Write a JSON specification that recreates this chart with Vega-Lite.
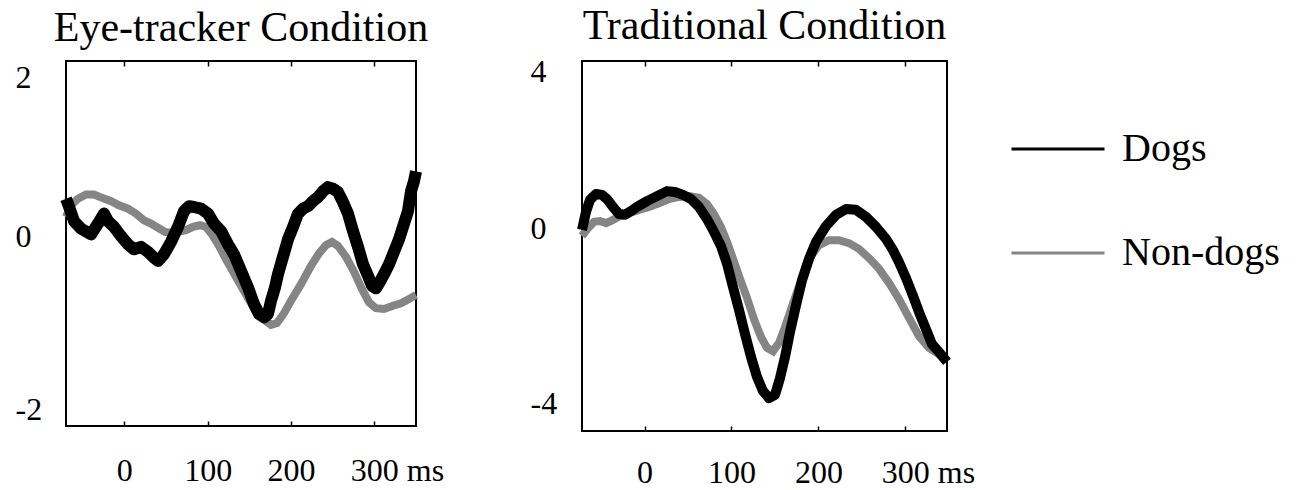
{
  "$schema": "https://vega.github.io/schema/vega-lite/v6.json",
  "padding": {"left": 14, "top": 4, "right": 5, "bottom": 0},
  "background": "white",
  "config": {
    "font": "Liberation Serif",
    "view": {"stroke": "black", "strokeWidth": 2},
    "axis": {"grid": false, "domain": false, "labelFont": "Liberation Serif", "labelFontSize": 32, "labelColor": "black", "title": null, "tickColor": "black"},
    "title": {"font": "Liberation Serif", "fontSize": 42, "fontWeight": "normal", "color": "black", "baseline": "alphabetic"},
    "legend": {"orient": "none", "legendX": 944, "legendY": 40, "symbolType": "stroke", "symbolSize": 8649, "symbolStrokeWidth": 3, "labelFontSize": 40, "labelFont": "Liberation Serif", "labelColor": "black", "labelOffset": 16, "rowPadding": 36, "title": null}
  },
  "datasets": {
    "eye": [
      {"t": -70, "v": 0.54, "s": "Dogs"}, {"t": -67.6, "v": 0.48, "s": "Dogs"}, {"t": -60.4, "v": 0.27, "s": "Dogs"}, {"t": -52, "v": 0.18, "s": "Dogs"}, {"t": -40, "v": 0.11, "s": "Dogs"}, {"t": -31.6, "v": 0.24, "s": "Dogs"}, {"t": -24.4, "v": 0.36, "s": "Dogs"}, {"t": -19.6, "v": 0.27, "s": "Dogs"}, {"t": -12.4, "v": 0.2, "s": "Dogs"}, {"t": -4, "v": 0.09, "s": "Dogs"}, {"t": 4.4, "v": -0.01, "s": "Dogs"}, {"t": 11.6, "v": -0.07, "s": "Dogs"}, {"t": 20, "v": -0.04, "s": "Dogs"}, {"t": 28.4, "v": -0.1, "s": "Dogs"}, {"t": 34.4, "v": -0.16, "s": "Dogs"}, {"t": 40.4, "v": -0.21, "s": "Dogs"}, {"t": 47.6, "v": -0.13, "s": "Dogs"}, {"t": 56, "v": 0.02, "s": "Dogs"}, {"t": 64.4, "v": 0.2, "s": "Dogs"}, {"t": 71.6, "v": 0.39, "s": "Dogs"}, {"t": 77.6, "v": 0.45, "s": "Dogs"}, {"t": 83.6, "v": 0.44, "s": "Dogs"}, {"t": 92, "v": 0.42, "s": "Dogs"}, {"t": 100.4, "v": 0.36, "s": "Dogs"}, {"t": 107.6, "v": 0.24, "s": "Dogs"}, {"t": 116, "v": 0.15, "s": "Dogs"}, {"t": 124.4, "v": -0.01, "s": "Dogs"}, {"t": 131.6, "v": -0.13, "s": "Dogs"}, {"t": 140, "v": -0.33, "s": "Dogs"}, {"t": 148.4, "v": -0.53, "s": "Dogs"}, {"t": 155.6, "v": -0.73, "s": "Dogs"}, {"t": 161.6, "v": -0.85, "s": "Dogs"}, {"t": 167.6, "v": -0.89, "s": "Dogs"}, {"t": 172.4, "v": -0.85, "s": "Dogs"}, {"t": 176, "v": -0.69, "s": "Dogs"}, {"t": 180.8, "v": -0.53, "s": "Dogs"}, {"t": 184.4, "v": -0.37, "s": "Dogs"}, {"t": 190.4, "v": -0.16, "s": "Dogs"}, {"t": 196.4, "v": 0.05, "s": "Dogs"}, {"t": 202.4, "v": 0.2, "s": "Dogs"}, {"t": 208.4, "v": 0.36, "s": "Dogs"}, {"t": 214.4, "v": 0.42, "s": "Dogs"}, {"t": 220.4, "v": 0.45, "s": "Dogs"}, {"t": 226.4, "v": 0.51, "s": "Dogs"}, {"t": 232.4, "v": 0.56, "s": "Dogs"}, {"t": 238.4, "v": 0.63, "s": "Dogs"}, {"t": 244.4, "v": 0.68, "s": "Dogs"}, {"t": 250.4, "v": 0.66, "s": "Dogs"}, {"t": 256.4, "v": 0.62, "s": "Dogs"}, {"t": 262.4, "v": 0.5, "s": "Dogs"}, {"t": 268.4, "v": 0.36, "s": "Dogs"}, {"t": 274.4, "v": 0.15, "s": "Dogs"}, {"t": 280.4, "v": -0.04, "s": "Dogs"}, {"t": 286.4, "v": -0.25, "s": "Dogs"}, {"t": 292.4, "v": -0.39, "s": "Dogs"}, {"t": 297.2, "v": -0.51, "s": "Dogs"}, {"t": 302, "v": -0.54, "s": "Dogs"}, {"t": 306.8, "v": -0.46, "s": "Dogs"}, {"t": 311.6, "v": -0.37, "s": "Dogs"}, {"t": 317.6, "v": -0.25, "s": "Dogs"}, {"t": 323.6, "v": -0.1, "s": "Dogs"}, {"t": 329.6, "v": 0.05, "s": "Dogs"}, {"t": 335.6, "v": 0.24, "s": "Dogs"}, {"t": 340.4, "v": 0.39, "s": "Dogs"}, {"t": 344, "v": 0.63, "s": "Dogs"}, {"t": 347.6, "v": 0.75, "s": "Dogs"}, {"t": 350, "v": 0.87, "s": "Dogs"},
      {"t": -70, "v": 0.32, "s": "Non-dogs"}, {"t": -64, "v": 0.46, "s": "Non-dogs"}, {"t": -55.6, "v": 0.54, "s": "Non-dogs"}, {"t": -46, "v": 0.59, "s": "Non-dogs"}, {"t": -36.4, "v": 0.59, "s": "Non-dogs"}, {"t": -26.8, "v": 0.55, "s": "Non-dogs"}, {"t": -16, "v": 0.51, "s": "Non-dogs"}, {"t": -6.4, "v": 0.46, "s": "Non-dogs"}, {"t": 4.4, "v": 0.42, "s": "Non-dogs"}, {"t": 14, "v": 0.36, "s": "Non-dogs"}, {"t": 23.6, "v": 0.28, "s": "Non-dogs"}, {"t": 32, "v": 0.24, "s": "Non-dogs"}, {"t": 40.4, "v": 0.19, "s": "Non-dogs"}, {"t": 48.8, "v": 0.14, "s": "Non-dogs"}, {"t": 56, "v": 0.13, "s": "Non-dogs"}, {"t": 64.4, "v": 0.14, "s": "Non-dogs"}, {"t": 74, "v": 0.16, "s": "Non-dogs"}, {"t": 82.4, "v": 0.2, "s": "Non-dogs"}, {"t": 90.8, "v": 0.22, "s": "Non-dogs"}, {"t": 98, "v": 0.2, "s": "Non-dogs"}, {"t": 105.2, "v": 0.11, "s": "Non-dogs"}, {"t": 113.6, "v": -0.03, "s": "Non-dogs"}, {"t": 122, "v": -0.19, "s": "Non-dogs"}, {"t": 130.4, "v": -0.34, "s": "Non-dogs"}, {"t": 140, "v": -0.51, "s": "Non-dogs"}, {"t": 149.6, "v": -0.68, "s": "Non-dogs"}, {"t": 159.2, "v": -0.83, "s": "Non-dogs"}, {"t": 167.6, "v": -0.92, "s": "Non-dogs"}, {"t": 176, "v": -0.98, "s": "Non-dogs"}, {"t": 183.2, "v": -0.96, "s": "Non-dogs"}, {"t": 191.6, "v": -0.84, "s": "Non-dogs"}, {"t": 200, "v": -0.69, "s": "Non-dogs"}, {"t": 212, "v": -0.49, "s": "Non-dogs"}, {"t": 224, "v": -0.27, "s": "Non-dogs"}, {"t": 233.6, "v": -0.12, "s": "Non-dogs"}, {"t": 242, "v": -0.02, "s": "Non-dogs"}, {"t": 249.2, "v": 0.02, "s": "Non-dogs"}, {"t": 256.4, "v": -0.03, "s": "Non-dogs"}, {"t": 266, "v": -0.16, "s": "Non-dogs"}, {"t": 275.6, "v": -0.34, "s": "Non-dogs"}, {"t": 285.2, "v": -0.55, "s": "Non-dogs"}, {"t": 293.6, "v": -0.71, "s": "Non-dogs"}, {"t": 302, "v": -0.78, "s": "Non-dogs"}, {"t": 311.6, "v": -0.79, "s": "Non-dogs"}, {"t": 322.4, "v": -0.75, "s": "Non-dogs"}, {"t": 332, "v": -0.72, "s": "Non-dogs"}, {"t": 341.6, "v": -0.67, "s": "Non-dogs"}, {"t": 350, "v": -0.62, "s": "Non-dogs"}
    ],
    "trad": [
      {"t": -72, "v": 0.19, "s": "Dogs"}, {"t": -67.4, "v": 0.62, "s": "Dogs"}, {"t": -62.8, "v": 0.91, "s": "Dogs"}, {"t": -55.9, "v": 1.05, "s": "Dogs"}, {"t": -49, "v": 1.03, "s": "Dogs"}, {"t": -43.2, "v": 0.93, "s": "Dogs"}, {"t": -36.3, "v": 0.74, "s": "Dogs"}, {"t": -29.4, "v": 0.57, "s": "Dogs"}, {"t": -22.5, "v": 0.55, "s": "Dogs"}, {"t": -15.6, "v": 0.64, "s": "Dogs"}, {"t": -8.7, "v": 0.74, "s": "Dogs"}, {"t": 2.8, "v": 0.88, "s": "Dogs"}, {"t": 14.3, "v": 1.0, "s": "Dogs"}, {"t": 25.8, "v": 1.12, "s": "Dogs"}, {"t": 35, "v": 1.1, "s": "Dogs"}, {"t": 44.2, "v": 1.03, "s": "Dogs"}, {"t": 53.4, "v": 0.93, "s": "Dogs"}, {"t": 62.6, "v": 0.74, "s": "Dogs"}, {"t": 71.8, "v": 0.45, "s": "Dogs"}, {"t": 79.9, "v": 0.14, "s": "Dogs"}, {"t": 87.9, "v": -0.2, "s": "Dogs"}, {"t": 94.9, "v": -0.63, "s": "Dogs"}, {"t": 101.8, "v": -1.19, "s": "Dogs"}, {"t": 108.7, "v": -1.74, "s": "Dogs"}, {"t": 115.6, "v": -2.32, "s": "Dogs"}, {"t": 122.5, "v": -2.87, "s": "Dogs"}, {"t": 129.4, "v": -3.35, "s": "Dogs"}, {"t": 136.3, "v": -3.69, "s": "Dogs"}, {"t": 143.2, "v": -3.86, "s": "Dogs"}, {"t": 150.1, "v": -3.78, "s": "Dogs"}, {"t": 155.8, "v": -3.38, "s": "Dogs"}, {"t": 161.6, "v": -2.87, "s": "Dogs"}, {"t": 167.3, "v": -2.27, "s": "Dogs"}, {"t": 174.3, "v": -1.62, "s": "Dogs"}, {"t": 181.2, "v": -1.02, "s": "Dogs"}, {"t": 189.2, "v": -0.51, "s": "Dogs"}, {"t": 197.3, "v": -0.1, "s": "Dogs"}, {"t": 208.8, "v": 0.28, "s": "Dogs"}, {"t": 220.3, "v": 0.55, "s": "Dogs"}, {"t": 231.8, "v": 0.69, "s": "Dogs"}, {"t": 243.3, "v": 0.67, "s": "Dogs"}, {"t": 254.8, "v": 0.5, "s": "Dogs"}, {"t": 266.3, "v": 0.26, "s": "Dogs"}, {"t": 277.8, "v": -0.03, "s": "Dogs"}, {"t": 285.9, "v": -0.3, "s": "Dogs"}, {"t": 292.8, "v": -0.59, "s": "Dogs"}, {"t": 300.8, "v": -0.97, "s": "Dogs"}, {"t": 308.9, "v": -1.4, "s": "Dogs"}, {"t": 315.8, "v": -1.79, "s": "Dogs"}, {"t": 323.8, "v": -2.2, "s": "Dogs"}, {"t": 330.7, "v": -2.56, "s": "Dogs"}, {"t": 338.8, "v": -2.75, "s": "Dogs"}, {"t": 348, "v": -2.99, "s": "Dogs"},
      {"t": -72, "v": 0.04, "s": "Non-dogs"}, {"t": -65.1, "v": 0.23, "s": "Non-dogs"}, {"t": -58.2, "v": 0.38, "s": "Non-dogs"}, {"t": -51.3, "v": 0.4, "s": "Non-dogs"}, {"t": -44.4, "v": 0.35, "s": "Non-dogs"}, {"t": -36.3, "v": 0.43, "s": "Non-dogs"}, {"t": -28.3, "v": 0.52, "s": "Non-dogs"}, {"t": -17.9, "v": 0.59, "s": "Non-dogs"}, {"t": -6.4, "v": 0.67, "s": "Non-dogs"}, {"t": 5.1, "v": 0.74, "s": "Non-dogs"}, {"t": 16.6, "v": 0.83, "s": "Non-dogs"}, {"t": 28.1, "v": 0.93, "s": "Non-dogs"}, {"t": 39.6, "v": 0.98, "s": "Non-dogs"}, {"t": 51.1, "v": 1.0, "s": "Non-dogs"}, {"t": 62.6, "v": 0.96, "s": "Non-dogs"}, {"t": 71.8, "v": 0.81, "s": "Non-dogs"}, {"t": 79.9, "v": 0.57, "s": "Non-dogs"}, {"t": 87.9, "v": 0.26, "s": "Non-dogs"}, {"t": 94.9, "v": -0.1, "s": "Non-dogs"}, {"t": 101.8, "v": -0.51, "s": "Non-dogs"}, {"t": 109.8, "v": -0.99, "s": "Non-dogs"}, {"t": 117.9, "v": -1.45, "s": "Non-dogs"}, {"t": 125.9, "v": -1.96, "s": "Non-dogs"}, {"t": 134, "v": -2.39, "s": "Non-dogs"}, {"t": 140.9, "v": -2.65, "s": "Non-dogs"}, {"t": 147.8, "v": -2.73, "s": "Non-dogs"}, {"t": 154.7, "v": -2.53, "s": "Non-dogs"}, {"t": 161.6, "v": -2.15, "s": "Non-dogs"}, {"t": 168.5, "v": -1.72, "s": "Non-dogs"}, {"t": 175.4, "v": -1.31, "s": "Non-dogs"}, {"t": 183.5, "v": -0.83, "s": "Non-dogs"}, {"t": 191.5, "v": -0.44, "s": "Non-dogs"}, {"t": 200.7, "v": -0.18, "s": "Non-dogs"}, {"t": 212.4, "v": -0.06, "s": "Non-dogs"}, {"t": 223.7, "v": -0.06, "s": "Non-dogs"}, {"t": 235.2, "v": -0.13, "s": "Non-dogs"}, {"t": 246.7, "v": -0.27, "s": "Non-dogs"}, {"t": 258.2, "v": -0.49, "s": "Non-dogs"}, {"t": 269.8, "v": -0.75, "s": "Non-dogs"}, {"t": 281.3, "v": -1.09, "s": "Non-dogs"}, {"t": 292.8, "v": -1.48, "s": "Non-dogs"}, {"t": 304.3, "v": -1.93, "s": "Non-dogs"}, {"t": 315.8, "v": -2.37, "s": "Non-dogs"}, {"t": 327.3, "v": -2.65, "s": "Non-dogs"}, {"t": 338.8, "v": -2.8, "s": "Non-dogs"}, {"t": 348, "v": -2.94, "s": "Non-dogs"}
    ]
  },
  "spacing": 84,
  "resolve": {"scale": {"color": "shared"}},
  "hconcat": [
    {
      "width": 350,
      "height": 365,
      "title": {"text": "Eye-tracker Condition", "offset": 10},
      "data": {"name": "eye"},
      "encoding": {
        "y": {"field": "v", "type": "quantitative", "scale": {"domain": [-2.2, 2.2], "nice": false, "zero": false},
          "axis": {"values": [-2, 0, 2], "labelExpr": "'' + datum.value", "labelAlign": "left", "labelBaseline": "middle", "labelPadding": 51, "ticks": false, "labelOffset": {"condition": {"test": "datum.value === 0", "value": -7}, "value": 0}}},
        "color": {"field": "s", "type": "nominal", "scale": {"domain": ["Dogs", "Non-dogs"], "range": ["#000000", "#858585"]}}
      },
      "resolve": {"axis": {"x": "independent"}},
      "layer": [
        {"transform": [{"filter": "datum.s === 'Non-dogs'"}], "mark": {"type": "line", "strokeWidth": 8},
          "encoding": {"x": {"field": "t", "type": "quantitative", "scale": {"domain": [-70, 350], "nice": false, "zero": false},
            "axis": {"values": [0, 100, 200, 300], "labelExpr": "datum.value === 300 ? '300 ms' : datum.label", "labelAlign": {"condition": {"test": "datum.value === 300", "value": "left"}, "value": "center"}, "labelOffset": {"condition": {"test": "datum.value === 300", "value": -24}, "value": 0}, "labelBaseline": "alphabetic", "labelPadding": 59, "tickSize": -5, "tickWidth": 1.5, "labelFlush": false, "labelOverlap": false}}}},
        {"transform": [{"filter": "datum.s === 'Dogs'"}], "mark": {"type": "line", "strokeWidth": 12, "strokeJoin": "round"},
          "encoding": {"x": {"field": "t", "type": "quantitative", "scale": {"domain": [-70, 350], "nice": false, "zero": false},
            "axis": {"orient": "top", "values": [0, 100, 200, 300], "labels": false, "tickSize": -5, "tickWidth": 1.5}}}}
      ]
    },
    {
      "width": 365,
      "height": 370,
      "title": {"text": "Traditional Condition", "offset": 7},
      "data": {"name": "trad"},
      "encoding": {
        "y": {"field": "v", "type": "quantitative", "scale": {"domain": [-4.65, 4.25], "nice": false, "zero": false},
          "axis": {"values": [-4, 0, 4], "labelExpr": "'' + datum.value", "labelAlign": "left", "labelBaseline": "middle", "labelPadding": 52, "ticks": false, "labelOffset": {"condition": {"test": "datum.value === 0", "value": -9}, "value": 0}}},
        "color": {"field": "s", "type": "nominal", "scale": {"domain": ["Dogs", "Non-dogs"], "range": ["#000000", "#858585"]}}
      },
      "resolve": {"axis": {"x": "independent"}},
      "layer": [
        {"transform": [{"filter": "datum.s === 'Non-dogs'"}], "mark": {"type": "line", "strokeWidth": 8},
          "encoding": {"x": {"field": "t", "type": "quantitative", "scale": {"domain": [-72, 348], "nice": false, "zero": false},
            "axis": {"values": [0, 100, 200, 300], "labelExpr": "datum.value === 300 ? '300 ms' : datum.label", "labelAlign": {"condition": {"test": "datum.value === 300", "value": "left"}, "value": "center"}, "labelOffset": {"condition": {"test": "datum.value === 300", "value": -24}, "value": 0}, "labelBaseline": "alphabetic", "labelPadding": 56, "tickSize": -5, "tickWidth": 1.5, "labelFlush": false, "labelOverlap": false}}}},
        {"transform": [{"filter": "datum.s === 'Dogs'"}], "mark": {"type": "line", "strokeWidth": 10, "strokeJoin": "round"},
          "encoding": {"x": {"field": "t", "type": "quantitative", "scale": {"domain": [-72, 348], "nice": false, "zero": false},
            "axis": {"orient": "top", "values": [0, 100, 200, 300], "labels": false, "tickSize": -5, "tickWidth": 1.5}}}}
      ]
    }
  ]
}
